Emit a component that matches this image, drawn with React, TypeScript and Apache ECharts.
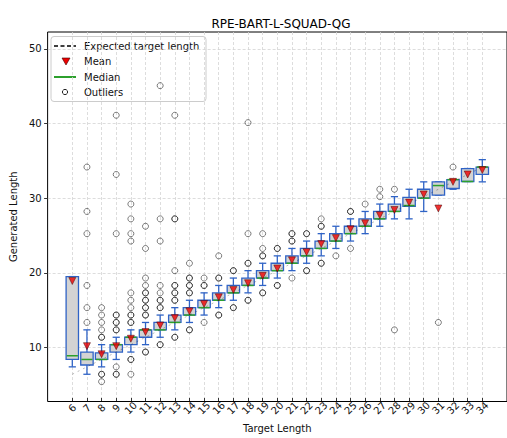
import React, { useEffect, useRef } from "react";
import * as echarts from "echarts";

// ---- data ----
const targetLengths = ["6","7","8","9","10","11","12","13","14","15","16","17","18","19","20","21","22","23","24","25","26","27","28","29","30","31","32","33","34"];
const expectedLength = [6,7,8,9,10,11,12,13,14,15,16,17,18,19,20,21,22,23,24,25,26,27,28,29,30,31,32,33,34];
const whiskerLow = [7.0,6.0,7.0,8.0,9.0,10,11,12,13,14,15,16,17,18,19,20,21,22,23,24,25,26,27,27,28,30.2,31.0,32.05,32];
const q1 = [8.0,7.25,8.0,9.0,10,11,12,13,14,15,16,17,18,19,20,21,22,23,24,25,26,27,28,28.7,29.8,30.2,31.1,32.05,33];
const medians = [8.5,8.0,8.0,10,11,12,12,13,14,15,16,17,18,19,20,21,22,23,24,25,26,27,28,28.8,29.8,31.5,32.3,32.05,34];
const q3 = [19.2,9.0,8.9,10,11,12,13,14,15,16,17,18,19,20,21,22,23,24,25,26,27,28,29,29.9,31,32,32.3,33.8,34];
const whiskerHigh = [19.2,12,10,11,12,13,14,15,16,17,18,19,20,21,22,23,24,25,26,27,28,29,30,31,32,32,32.3,33.8,35];
const means = [18.6,9.8,8.7,9.8,10.8,11.7,12.6,13.6,14.5,15.5,16.4,17.4,18.3,19.3,20.3,21.4,22.5,23.6,24.4,25.6,26.4,27.5,28.2,29.2,30.3,28.4,32.0,33.0,33.6];
const outliers: number[][] = [
  [],
  [34,28,25,18,15,13],
  [15,14,13,12,11,11,6,6,5],
  [41,33,25,14,14,13,13,12,12,7,6,6],
  [29,27,25,24,17,16,15,14,14,13,13,8,8,6],
  [26,23,19,18,17,17,16,16,15,15,14,14,9,9],
  [45,27,24,18,17,16,16,15,15,10,10],
  [41,27,27,20,18,18,17,17,16,16,11,11],
  [21,19,19,18,18,17,17,12,12],
  [19,18,18,13],
  [22,19,19,14,14],
  [20,20,15,15],
  [40,25,21,21,16,16],
  [25,23,22,22,17,17],
  [23,23,18,18],
  [25,25,24,24,19],
  [25,25,20,20],
  [27,26,26,21,21],
  [22],
  [28,28,23],
  [29],
  [31,30],
  [31,12],
  [],
  [],
  [13],
  [34],
  [],
  []
];
const yTickValues = [10, 20, 30, 40, 50];
const legendLabels = ["Expected target length", "Mean", "Median", "Outliers"];

const Y_MIN = 2.8;
const Y_MAX = 52.25;
const BLUE = "#2f63c6";
const GREEN = "#2ca02c";
const FONT = "DejaVu Sans";

export default function App() {
  const ref = useRef<HTMLDivElement>(null);
  useEffect(() => {
    if (!ref.current) return;
    const chart = echarts.init(ref.current, null, { renderer: "svg" });

    const boxData = targetLengths.map((_, i) => [i, whiskerLow[i], q1[i], medians[i], q3[i], whiskerHigh[i]]);
    const meanData = means.map((m, i) => [i, m]);
    const outlierData = outliers.flatMap((arr, i) => arr.map((v) => [i, v]));
    const expectedData = expectedLength.map((v, i) => [i, v]);

    const gridTop = 32;
    const gridBottom = 36.5;
    const splitStyle = { color: "#d4d4d4", width: 0.8, type: [3, 2] as any };

    const legendX = 51, legendY = 36.5;
    const rowY = [46, 61.5, 77, 92];

    chart.setOption({
      animation: false,
      backgroundColor: "#fff",
      textStyle: { fontFamily: FONT },
      title: {
        text: "RPE-BART-L-SQUAD-QG",
        left: 276,
        top: 13,
        textAlign: "center",
        textStyle: { fontFamily: FONT, fontSize: 12, fontWeight: "normal", color: "#000" },
      },
      grid: [
        { left: 45, right: -1, top: gridTop, bottom: gridBottom, show: true, borderColor: "#000", borderWidth: 1, backgroundColor: "transparent" },
        { left: 72.3, right: 24.7, top: gridTop, bottom: gridBottom },
      ],
      xAxis: [
        { type: "value", gridIndex: 0, show: false, min: 0, max: 1 },
        {
          type: "category",
          gridIndex: 1,
          data: targetLengths,
          boundaryGap: false,
          axisLine: { show: false },
          axisTick: { show: true, interval: 0, length: 3.5, lineStyle: { color: "#000", width: 0.8 } },
          axisLabel: {
            interval: 0, rotate: 45, align: "center", verticalAlign: "middle", margin: 10,
            fontFamily: FONT, fontSize: 10, color: "#111",
          },
          splitLine: { show: true, interval: 0, lineStyle: splitStyle },
          name: "Target Length",
          nameLocation: "middle",
          nameGap: 25,
          nameTextStyle: { fontFamily: FONT, fontSize: 10, color: "#111" },
        },
      ],
      yAxis: [
        {
          type: "value",
          gridIndex: 0,
          min: Y_MIN,
          max: Y_MAX,
          splitNumber: 5,
          axisLine: { show: false },
          axisTick: { show: true, length: 3.5, lineStyle: { color: "#000", width: 0.8 }, customValues: yTickValues },
          axisLabel: { margin: 6, fontFamily: FONT, fontSize: 10, color: "#111", customValues: yTickValues },
          splitLine: { show: true, lineStyle: splitStyle },
          name: "Generated Length",
          nameLocation: "middle",
          nameGap: 26,
          nameTextStyle: { fontFamily: FONT, fontSize: 10, color: "#111" },
        },
        { type: "value", gridIndex: 1, min: Y_MIN, max: Y_MAX, show: false, splitLine: { show: false } },
      ],
      series: [
        {
          type: "custom",
          name: "Boxes",
          xAxisIndex: 1,
          yAxisIndex: 1,
          z: 2,
          data: boxData,
          encode: { x: 0, y: [1, 2, 3, 4, 5] },
          renderItem: (_params: any, api: any) => {
            const i = api.value(0);
            const lo = api.coord([i, api.value(1)]);
            const b1 = api.coord([i, api.value(2)]);
            const md = api.coord([i, api.value(3)]);
            const b3 = api.coord([i, api.value(4)]);
            const hi = api.coord([i, api.value(5)]);
            const x = lo[0];
            const hw = 6.2, cw = 3.6;
            const ls = { stroke: BLUE, lineWidth: 1.3 };
            return {
              type: "group",
              children: [
                { type: "line", shape: { x1: x, y1: lo[1], x2: x, y2: b1[1] }, style: ls },
                { type: "line", shape: { x1: x, y1: b3[1], x2: x, y2: hi[1] }, style: ls },
                { type: "line", shape: { x1: x - cw, y1: lo[1], x2: x + cw, y2: lo[1] }, style: ls },
                { type: "line", shape: { x1: x - cw, y1: hi[1], x2: x + cw, y2: hi[1] }, style: ls },
                { type: "rect", shape: { x: x - hw, y: b3[1], width: 2 * hw, height: b1[1] - b3[1] }, style: { fill: "#d3d3d3", stroke: BLUE, lineWidth: 1.3 } },
                { type: "line", shape: { x1: x - hw + 0.6, y1: md[1], x2: x + hw - 0.6, y2: md[1] }, style: { stroke: GREEN, lineWidth: 1.5 } },
              ],
            };
          },
        },
        {
          type: "line",
          name: legendLabels[0],
          xAxisIndex: 1,
          yAxisIndex: 1,
          z: 3,
          data: expectedData,
          symbol: "none",
          lineStyle: { color: "#000", width: 0.9, type: [2, 4], opacity: 0.3 },
        },
        {
          type: "scatter",
          name: legendLabels[3],
          xAxisIndex: 1,
          yAxisIndex: 1,
          z: 3,
          data: outlierData,
          symbol: "circle",
          symbolSize: 6,
          itemStyle: { color: "transparent", borderColor: "#000", borderWidth: 1, opacity: 0.5 },
        },
        {
          type: "scatter",
          name: legendLabels[1],
          xAxisIndex: 1,
          yAxisIndex: 1,
          z: 4,
          data: meanData,
          symbol: "triangle",
          symbolRotate: 180,
          symbolSize: 7,
          itemStyle: { color: "#ee0000", borderColor: "#400000", borderWidth: 0.6 },
        },
      ],
      graphic: [
        {
          type: "group",
          z: 100,
          children: [
            { type: "rect", shape: { x: legendX, y: legendY, width: 155, height: 65, r: 3 }, style: { fill: "rgba(255,255,255,0.85)", stroke: "#cccccc", lineWidth: 1 } },
            { type: "line", shape: { x1: 54, y1: rowY[0], x2: 76, y2: rowY[0] }, style: { stroke: "#000", lineWidth: 1.5, lineDash: [4, 2.5] } },
            { type: "polygon", shape: { points: [[62, rowY[1] - 3.5], [70, rowY[1] - 3.5], [66, rowY[1] + 3.5]] }, style: { fill: "#ee0000", stroke: "#400000", lineWidth: 0.6 } },
            { type: "line", shape: { x1: 54, y1: rowY[2], x2: 76, y2: rowY[2] }, style: { stroke: GREEN, lineWidth: 2 } },
            { type: "circle", shape: { cx: 65, cy: rowY[3], r: 2.6 }, style: { fill: "none", stroke: "#222", lineWidth: 1 } },
            ...legendLabels.map((t, k) => ({
              type: "text",
              x: 84,
              y: rowY[k],
              style: { text: t, fontFamily: FONT, fontSize: 10, fill: "#111", verticalAlign: "middle", align: "left" },
            })),
          ],
        },
      ],
    });
    return () => chart.dispose();
  }, []);
  return <div ref={ref} style={{ position: "fixed", left: 0, top: 0, width: 507, height: 438 }} />;
}
